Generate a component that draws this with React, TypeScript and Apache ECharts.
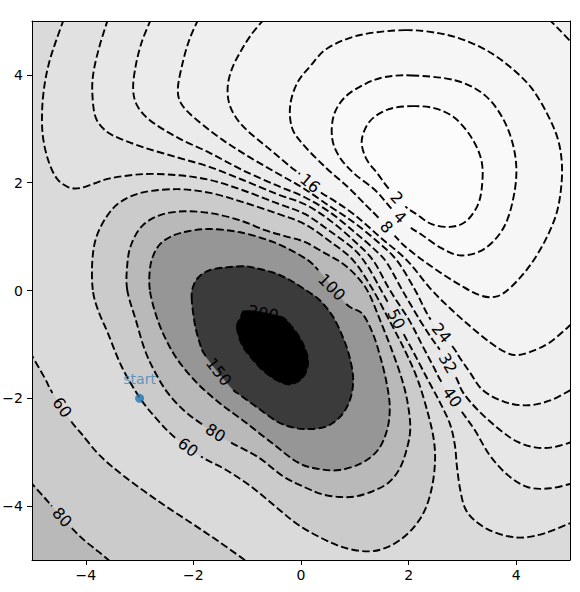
import React, { useEffect, useRef } from 'react';
import * as echarts from 'echarts';

type Pt = [number, number] | null;

// ---- axis ticks ----
const xTickValues = [-4, -2, 0, 2, 4];
const yTickValues = [-4, -2, 0, 2, 4];

// ---- contour lines (data coordinates); null = gap for an inline label ----
const contour200: Pt[] = [[-1.19,-0.68],[-1.12,-0.50],[-1.00,-0.37],null,[-0.39,-0.48],[-0.20,-0.64],[-0.04,-0.85],[0.07,-1.07],[0.13,-1.29],[0.09,-1.52],[-0.04,-1.68],[-0.24,-1.74],[-0.46,-1.66],[-0.71,-1.48],[-0.93,-1.24],[-1.10,-1.00]];
const contour150: Pt[] = [[-2.03,-0.18],[-2.01,0.06],[-1.90,0.25],[-1.69,0.38],[-1.38,0.43],[-1.04,0.45],[-0.82,0.41],[-0.48,0.32],[-0.20,0.19],[0.07,0.02],[0.35,-0.18],[0.59,-0.48],[0.78,-0.87],[0.91,-1.26],[0.97,-1.66],[0.91,-2.03],[0.74,-2.33],[0.48,-2.52],[0.17,-2.57],[-0.11,-2.55],[-0.43,-2.44],[-0.80,-2.18],[-1.13,-1.94],[-1.30,-1.80],null,[-1.77,-1.22],[-1.88,-0.98],[-1.97,-0.64]];
const contour100: Pt[] = [[-2.81,0.01],[-2.81,0.38],[-2.75,0.64],[-2.62,0.86],[-2.40,1.01],[-2.10,1.10],[-1.69,1.14],[-1.13,1.08],[-0.52,0.90],[0.04,0.62],[0.32,0.38],null,[0.84,-0.25],[1.13,-0.42],[1.34,-0.81],[1.49,-1.29],[1.60,-1.76],[1.65,-2.18],[1.60,-2.59],[1.43,-2.96],[1.13,-3.20],[0.72,-3.33],[0.32,-3.31],[-0.06,-3.19],[-0.54,-2.83],[-1.04,-2.44],[-1.51,-2.09],[-1.93,-1.72],[-2.29,-1.29],[-2.53,-0.87],[-2.70,-0.44]];
const contour80Inner: Pt[] = [[-3.23,0.01],[-3.23,0.47],[-3.16,0.84],[-2.96,1.19],[-2.62,1.40],[-2.16,1.47],[-1.65,1.43],[-1.13,1.30],[-0.67,1.12],[-0.30,1.01],[0.07,0.90],[0.45,0.69],[0.76,0.51],[1.02,0.28],[1.25,-0.03],[1.47,-0.55],[1.69,-1.11],[1.88,-1.66],[1.99,-2.13],[2.03,-2.59],[1.95,-3.00],[1.82,-3.33],[1.62,-3.57],[1.34,-3.72],[1.02,-3.82],[0.72,-3.83],[0.39,-3.78],[0.07,-3.65],[-0.33,-3.45],[-0.80,-3.09],[-1.34,-2.80],null,[-1.84,-2.48],[-2.16,-2.24],[-2.47,-1.91],[-2.71,-1.52],[-2.90,-1.11],[-3.07,-0.55]];
const contour80Corner: Pt[] = [[-5.04,-3.54],[-4.78,-3.83],[-4.63,-4.00],null,[-4.26,-4.41],[-4.01,-4.65],[-3.77,-4.84],[-3.53,-5.04]];
const contour60Inner: Pt[] = [[-3.87,0.01],[-3.88,0.53],[-3.81,0.97],[-3.62,1.36],[-3.36,1.64],[-2.94,1.82],[-2.30,1.88],[-1.69,1.81],[-1.08,1.64],[-0.45,1.43],[0.07,1.23],[0.54,0.91],[0.97,0.56],[1.32,0.04],[1.64,-0.55],[1.93,-1.11],[2.17,-1.66],[2.36,-2.28],[2.47,-2.78],[2.49,-3.20],[2.43,-3.67],[2.30,-4.08],[2.10,-4.39],[1.84,-4.63],[1.56,-4.78],[1.28,-4.84],[0.91,-4.80],[0.54,-4.67],[-0.02,-4.37],[-0.46,-4.02],[-0.91,-3.65],[-1.39,-3.33],[-1.86,-3.08],null,[-2.34,-2.73],[-2.66,-2.41],[-2.99,-2.00],[-3.33,-1.42],[-3.59,-0.79],[-3.77,-0.37]];
const contour60Outer: Pt[] = [[-5.04,-1.14],[-4.76,-1.63],[-4.62,-1.90],null,[-4.27,-2.43],[-4.07,-2.67],[-3.74,-3.06],[-3.27,-3.46],[-2.62,-3.93],[-2.03,-4.32],[-1.51,-4.67],[-0.99,-5.04]];
const contour50: Pt[] = [[-4.41,5.03],[-4.55,4.64],[-4.67,4.27],[-4.76,3.86],[-4.81,3.38],[-4.80,2.88],[-4.70,2.42],[-4.54,2.08],[-4.33,1.92],[-4.11,1.90],[-3.83,1.99],[-3.55,2.08],[-2.94,2.16],[-2.30,2.14],[-1.69,2.05],[-1.08,1.86],[-0.45,1.62],[0.07,1.42],[0.54,1.10],[1.00,0.75],[1.25,0.43],[1.47,0.04],[1.63,-0.25],null,[1.91,-0.81],[2.12,-1.20],[2.36,-1.66],[2.58,-2.07],[2.77,-2.48],[2.86,-2.87],[2.90,-3.28],[2.96,-3.70],[3.05,-4.04],[3.22,-4.26],[3.51,-4.45],[3.85,-4.56],[4.16,-4.58],[4.54,-4.50],[5.04,-4.30]];
const contour40: Pt[] = [[-3.59,5.03],[-3.74,4.55],[-3.85,4.09],[-3.88,3.72],[-3.83,3.25],[-3.68,3.01],[-3.46,2.86],[-2.94,2.66],[-2.30,2.47],[-1.69,2.29],[-1.08,2.05],[-0.45,1.79],[0.07,1.60],[0.54,1.30],[1.00,0.91],[1.34,0.56],[1.65,0.01],[2.01,-0.55],[2.25,-1.01],[2.45,-1.39],[2.62,-1.71],null,[2.99,-2.25],[3.23,-2.59],[3.51,-3.06],[3.85,-3.43],[4.22,-3.65],[4.63,-3.67],[5.04,-3.58]];
const contour32: Pt[] = [[-2.79,5.03],[-2.96,4.61],[-3.07,4.18],[-3.12,3.75],[-3.05,3.44],[-2.81,3.16],[-2.30,2.84],[-1.69,2.55],[-1.08,2.23],[-0.45,1.95],[0.07,1.73],[0.54,1.45],[1.00,1.08],[1.38,0.75],[1.60,0.51],[1.88,0.01],[2.21,-0.55],[2.45,-0.92],[2.58,-1.10],null,[2.88,-1.61],[3.01,-1.89],[3.29,-2.22],[3.70,-2.59],[4.03,-2.81],[4.35,-2.91],[4.67,-2.91],[5.04,-2.81]];
const contour24: Pt[] = [[-1.91,5.03],[-2.08,4.64],[-2.21,4.18],[-2.29,3.72],[-2.21,3.44],[-1.93,3.16],[-1.45,2.79],[-0.95,2.47],[-0.45,2.18],[0.04,1.90],[0.54,1.56],[1.00,1.25],[1.43,0.90],[1.78,0.56],[2.12,0.01],[2.41,-0.54],null,[2.81,-1.03],[2.96,-1.26],[3.14,-1.52],[3.38,-1.85],[3.79,-2.07],[4.22,-2.13],[4.63,-2.04],[5.04,-1.83]];
const contour16: Pt[] = [[-0.69,5.03],[-0.93,4.74],[-1.13,4.42],[-1.28,4.12],[-1.36,3.81],[-1.34,3.49],[-1.21,3.21],[-0.99,2.96],[-0.63,2.66],[-0.20,2.30],[-0.02,2.16],null,[0.37,1.82],[0.58,1.69],[1.00,1.40],[1.47,0.99],[1.97,0.56],[2.40,0.04],[2.77,-0.33],[3.14,-0.66],[3.51,-0.96],[3.79,-1.14],[4.00,-1.20],[4.26,-1.14],[4.63,-0.96],[5.04,-0.61]];
const contour16Corner: Pt[] = [[4.61,5.03],[4.81,4.83],[5.06,4.57]];
const contour8: Pt[] = [[1.93,4.83],[2.58,4.77],[3.05,4.64],[3.51,4.42],[3.92,4.12],[4.29,3.75],[4.59,3.25],[4.78,2.79],[4.85,2.33],[4.83,1.86],[4.74,1.40],[4.54,0.93],[4.26,0.47],[3.92,0.08],[3.64,-0.11],[3.33,-0.09],[2.96,0.10],[2.58,0.34],[2.21,0.60],[1.91,0.84],[1.74,1.02],null,[1.44,1.35],[1.21,1.58],[0.87,1.92],[0.45,2.29],[0.02,2.73],[-0.17,3.03],[-0.20,3.44],[-0.07,3.85],[0.17,4.16],[0.50,4.50],[1.10,4.74]];
const contour4: Pt[] = [[2.06,3.99],[2.86,3.90],[3.42,3.62],[3.79,3.12],[3.98,2.51],[3.98,1.90],[3.79,1.21],[3.42,0.78],[2.99,0.65],[2.62,0.78],[2.25,1.03],[2.00,1.20],null,[1.68,1.52],[1.38,1.86],[1.00,2.16],[0.72,2.47],[0.58,2.82],[0.61,3.25],[0.82,3.59],[1.19,3.83],[1.56,3.96]];
const contour2: Pt[] = [[2.06,3.42],[2.49,3.38],[2.86,3.20],[3.18,2.82],[3.36,2.38],[3.36,1.90],[3.27,1.55],[3.05,1.27],[2.77,1.18],[2.43,1.23],[2.17,1.40],[1.94,1.56],null,[1.63,1.89],[1.43,2.16],[1.21,2.45],[1.13,2.79],[1.28,3.14],[1.62,3.36]];

// ---- inline contour labels ----
const labelTexts = ['2', '4', '8', '16', '24', '32', '40', '50', '100', '150', '200', '80', '60', '60', '80'];
const labelPoints: [number, number][] = [[1.78,1.72],[1.84,1.36],[1.59,1.18],[0.17,1.99],[2.61,-0.79],[2.73,-1.35],[2.81,-1.98],[1.77,-0.53],[0.57,0.06],[-1.53,-1.51],[-0.70,-0.42],[-1.59,-2.64],[-2.10,-2.91],[-4.44,-2.17],[-4.44,-4.21]];
const labelAngles = [-47, -45, -49, -40, -50, -60, -55, -63, -45, -52, -10, -32, -37, -55, -48];

// ---- start point ----
const startPoint: [number, number] = [-3, -2];
const startText = 'start';

// ---- geometry helpers (Catmull-Rom through the traced points) ----
function toPx(pts: Pt[], api: any) {
  const P: number[][] = [];
  const gapAfter: boolean[] = [];
  pts.forEach((p) => {
    if (p === null) {
      if (P.length) gapAfter[P.length - 1] = true;
    } else {
      P.push(api.coord(p));
    }
  });
  return { P, gapAfter };
}

function segments(P: number[][], closed: boolean) {
  const n = P.length;
  const out: { c1: number[]; c2: number[]; p: number[] }[] = [];
  const count = closed ? n : n - 1;
  for (let i = 0; i < count; i++) {
    const p1 = P[i];
    const p2 = P[(i + 1) % n];
    const p0 = closed ? P[(i - 1 + n) % n] : P[Math.max(i - 1, 0)];
    const p3 = closed ? P[(i + 2) % n] : P[Math.min(i + 2, n - 1)];
    out.push({
      c1: [p1[0] + (p2[0] - p0[0]) / 6, p1[1] + (p2[1] - p0[1]) / 6],
      c2: [p2[0] - (p3[0] - p1[0]) / 6, p2[1] - (p3[1] - p1[1]) / 6],
      p: p2,
    });
  }
  return out;
}

const f = (v: number) => v.toFixed(2);

function strokePath(pts: Pt[], closed: boolean, api: any) {
  const { P, gapAfter } = toPx(pts, api);
  const segs = segments(P, closed);
  let d = `M${f(P[0][0])},${f(P[0][1])}`;
  segs.forEach((s, i) => {
    if (gapAfter[i]) d += `M${f(s.p[0])},${f(s.p[1])}`;
    else d += `C${f(s.c1[0])},${f(s.c1[1])} ${f(s.c2[0])},${f(s.c2[1])} ${f(s.p[0])},${f(s.p[1])}`;
  });
  return d;
}

function fillPath(pts: Pt[], closed: boolean, extra: Pt[], api: any) {
  const { P } = toPx(pts, api);
  const segs = segments(P, closed);
  let d = `M${f(P[0][0])},${f(P[0][1])}`;
  segs.forEach((s) => {
    d += `C${f(s.c1[0])},${f(s.c1[1])} ${f(s.c2[0])},${f(s.c2[1])} ${f(s.p[0])},${f(s.p[1])}`;
  });
  extra.forEach((e) => {
    if (!e) return;
    const q = api.coord(e);
    d += `L${f(q[0])},${f(q[1])}`;
  });
  return d + 'Z';
}

const BL: Pt = [-5.1, -5.1];
const TR: Pt = [5.1, 5.1];

const fillItems: { pts: Pt[]; closed: boolean; extra: Pt[]; color: string }[] = [
  { pts: contour60Inner, closed: true, extra: [], color: '#cbcbcb' },
  { pts: contour60Outer, closed: false, extra: [BL], color: '#cbcbcb' },
  { pts: contour80Inner, closed: true, extra: [], color: '#b9b9b9' },
  { pts: contour80Corner, closed: false, extra: [BL], color: '#b9b9b9' },
  { pts: contour100, closed: true, extra: [], color: '#969696' },
  { pts: contour150, closed: true, extra: [], color: '#3b3b3b' },
  { pts: contour200, closed: true, extra: [], color: '#000000' },
  { pts: contour50, closed: false, extra: [TR], color: '#e1e1e1' },
  { pts: contour40, closed: false, extra: [TR], color: '#e7e7e7' },
  { pts: contour32, closed: false, extra: [TR], color: '#ebebeb' },
  { pts: contour24, closed: false, extra: [TR], color: '#efefef' },
  { pts: contour16, closed: false, extra: [...contour16Corner].reverse(), color: '#f3f3f3' },
  { pts: contour8, closed: true, extra: [], color: '#f6f6f6' },
  { pts: contour4, closed: true, extra: [], color: '#f9f9f9' },
  { pts: contour2, closed: true, extra: [], color: '#fcfcfc' },
];

const lineItems: { pts: Pt[]; closed: boolean }[] = [
  { pts: contour200, closed: true },
  { pts: contour150, closed: true },
  { pts: contour100, closed: true },
  { pts: contour80Inner, closed: true },
  { pts: contour80Corner, closed: false },
  { pts: contour60Inner, closed: true },
  { pts: contour60Outer, closed: false },
  { pts: contour50, closed: false },
  { pts: contour40, closed: false },
  { pts: contour32, closed: false },
  { pts: contour24, closed: false },
  { pts: contour16, closed: false },
  { pts: contour16Corner, closed: false },
  { pts: contour8, closed: true },
  { pts: contour4, closed: true },
  { pts: contour2, closed: true },
];

const FONT = 'DejaVu Sans';
const tickFmt = (v: number) => (v < 0 ? '\u2212' + Math.abs(v) : String(v));

export default function App() {
  const ref = useRef<HTMLDivElement>(null);
  useEffect(() => {
    const chart = echarts.init(ref.current!, null, { renderer: 'svg' });
    const axisLineStyle = { color: '#000', width: 1 };
    chart.setOption({
      animation: false,
      backgroundColor: '#fff',
      textStyle: { fontFamily: FONT },
      grid: { left: 32, right: 10, top: 21, bottom: 32, containLabel: false, outerBoundsMode: 'none', show: true, backgroundColor: '#dadada', borderWidth: 0 },
      xAxis: [
        {
          type: 'value', min: -5, max: 5, position: 'bottom', z: 10,
          axisLine: { show: true, onZero: false, lineStyle: axisLineStyle },
          axisTick: { show: true, inside: false, length: 5, lineStyle: axisLineStyle, customValues: xTickValues },
          axisLabel: { show: true, customValues: xTickValues, formatter: tickFmt, color: '#000', fontSize: 14, fontFamily: FONT, margin: 8 },
          splitLine: { show: false },
        },
        {
          type: 'value', min: -5, max: 5, position: 'top', z: 10,
          axisLine: { show: true, onZero: false, lineStyle: axisLineStyle },
          axisTick: { show: false }, axisLabel: { show: false }, splitLine: { show: false },
        },
      ],
      yAxis: [
        {
          type: 'value', min: -5, max: 5, position: 'left', z: 10,
          axisLine: { show: true, onZero: false, lineStyle: axisLineStyle },
          axisTick: { show: true, inside: false, length: 5, lineStyle: axisLineStyle, customValues: yTickValues },
          axisLabel: { show: true, customValues: yTickValues, formatter: tickFmt, color: '#000', fontSize: 14, fontFamily: FONT, margin: 9 },
          splitLine: { show: false },
        },
        {
          type: 'value', min: -5, max: 5, position: 'right', z: 10,
          axisLine: { show: true, onZero: false, lineStyle: axisLineStyle },
          axisTick: { show: false }, axisLabel: { show: false }, splitLine: { show: false },
        },
      ],
      series: [
        {
          type: 'custom', coordinateSystem: 'cartesian2d', xAxisIndex: 0, yAxisIndex: 0,
          clip: true, silent: true, z: 1,
          data: fillItems.map(() => [0, 0]),
          renderItem: (params: any, api: any) => {
            const it = fillItems[params.dataIndex];
            return {
              type: 'path',
              shape: { pathData: fillPath(it.pts, it.closed, it.extra, api) },
              style: { fill: it.color, stroke: it.color, lineWidth: 0.6 },
            };
          },
        },
        {
          type: 'custom', coordinateSystem: 'cartesian2d', xAxisIndex: 0, yAxisIndex: 0,
          clip: true, silent: true, z: 2,
          data: lineItems.map(() => [0, 0]),
          renderItem: (params: any, api: any) => {
            const it = lineItems[params.dataIndex];
            return {
              type: 'path',
              shape: { pathData: strokePath(it.pts, it.closed, api) },
              style: { fill: 'none', stroke: '#000', lineWidth: 1.9, lineDash: [7.5, 3.3] },
            };
          },
        },
        {
          type: 'custom', coordinateSystem: 'cartesian2d', xAxisIndex: 0, yAxisIndex: 0,
          silent: true, z: 3,
          data: labelTexts.map(() => [0, 0]),
          renderItem: (params: any, api: any) => {
            const i = params.dataIndex;
            const c = api.coord(labelPoints[i]);
            return {
              type: 'text',
              x: c[0], y: c[1],
              rotation: (labelAngles[i] * Math.PI) / 180,
              style: {
                text: labelTexts[i], fill: '#000', fontSize: 16, fontFamily: FONT,
                align: 'center', verticalAlign: 'middle', textAlign: 'center', textVerticalAlign: 'middle',
              },
            };
          },
        },
        {
          type: 'scatter', xAxisIndex: 0, yAxisIndex: 0, z: 5,
          data: [startPoint], symbol: 'circle', symbolSize: 9,
          itemStyle: { color: '#1f77b4' },
          label: { show: true, formatter: startText, position: 'top', distance: 8, color: 'rgba(31,119,180,0.85)', fontSize: 14, fontFamily: FONT },
        },
      ],
    });
    return () => chart.dispose();
  }, []);
  return <div ref={ref} style={{ position: 'fixed', left: 0, top: 0, width: 580, height: 592, background: '#fff' }} />;
}
